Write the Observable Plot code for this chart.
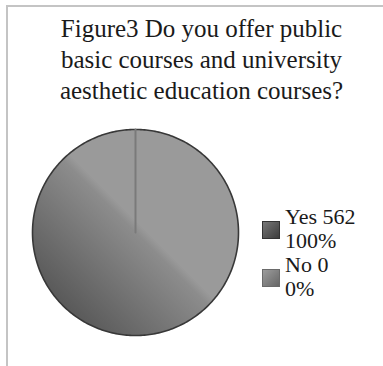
<!DOCTYPE html>
<html>
<head>
<meta charset="utf-8">
<script src="https://cdn.jsdelivr.net/npm/d3@7"></script>
<script src="https://cdn.jsdelivr.net/npm/@observablehq/plot@0.6"></script>
<style>
  html, body { margin: 0; padding: 0; background: #fff; }
  body { width: 383px; height: 366px; position: relative; overflow: hidden; font-family: "Liberation Serif", "DejaVu Serif", serif; color: #1a1a1a; }
  #frame { position: absolute; left: 6px; top: 5px; width: 400px; height: 400px; border-left: 2px solid #c4c4c4; border-top: 2px solid #c4c4c4; }
  #title { position: absolute; left: 0; top: 13px; width: 403px; text-align: center; font-size: 25px; line-height: 31px; }
  #chart { position: absolute; left: 0; top: 115px; }
  .item { position: absolute; left: 285px; font-size: 22px; line-height: 24px; white-space: nowrap; }
  .sw { position: absolute; left: 262px; width: 16px; height: 16px; border: 1.5px solid #333; }
</style>
</head>
<body>
<div id="frame"></div>
<div id="title"></div>
<div id="chart"></div>
<div id="legend"></div>
<script>
const titleLines = ["Figure3 Do you offer public", "basic courses and university", "aesthetic education courses?"];
const categories = ["Yes", "No"];
const counts = [562, 0];
const percents = ["100%", "0%"];

document.getElementById("title").innerHTML = titleLines.join("<br>");

// pie angles from the data
const arcs = d3.pie().sort(null)(counts);
const slices = [];
arcs.forEach((a, i) => {
  const span = a.endAngle - a.startAngle;
  const n = Math.max(1, Math.ceil(span / (Math.PI / 180)));
  const pts = [{cat: categories[i], x: 0, y: 0, part: "edge"}];
  for (let k = 0; k <= n; k++) {
    const t = a.startAngle + span * k / n;
    pts.push({cat: categories[i], x: Math.sin(t), y: Math.cos(t), part: "arc"});
  }
  pts.push({cat: categories[i], x: 0, y: 0, part: "edge"});
  slices.push(pts);
});
const yesSlice = slices[0];
const yesArc = yesSlice.filter(d => d.part === "arc");
const noSlice = slices[1];

const plot = Plot.plot({
  width: 383,
  height: 251,
  margin: 0,
  x: {domain: [-1, 1], range: [32, 238], axis: null},
  y: {domain: [-1, 1], range: [220, 14], axis: null},
  marks: [
    Plot.line(yesSlice, {x: "x", y: "y", fill: "url(#pieGrad)", stroke: "none", curve: "linear"}),
    Plot.line(yesArc, {x: "x", y: "y", stroke: "#383838", strokeWidth: 1.6, curve: "linear"}),
    Plot.line(noSlice, {x: "x", y: "y", stroke: "#7a7a7a", strokeWidth: 2, curve: "linear"})
  ]
});
plot.insertAdjacentHTML("afterbegin",
  `<defs><linearGradient id="pieGrad" x1="0" y1="1" x2="1" y2="0">
     <stop offset="0" stop-color="#444"/>
     <stop offset="0.5" stop-color="#8c8c8c"/>
     <stop offset="0.53" stop-color="#9a9a9a"/>
     <stop offset="1" stop-color="#9a9a9a"/>
   </linearGradient></defs>`);
document.getElementById("chart").appendChild(plot);

// legend
const legend = document.getElementById("legend");
const itemTops = [205, 253];
const swatchFills = ["linear-gradient(135deg, #777 0%, #3c3c3c 100%)", "linear-gradient(135deg, #9c9c9c 0%, #666 100%)"];
const swatchBorders = ["#333", "#6a6a6a"];
categories.forEach((c, i) => {
  const t = document.createElement("div");
  t.className = "item";
  t.style.top = itemTops[i] + "px";
  t.innerHTML = `${c} ${counts[i]}<br>${percents[i]}`;
  legend.appendChild(t);
  const s = document.createElement("div");
  s.className = "sw";
  s.style.top = (itemTops[i] + 16) + "px";
  s.style.background = swatchFills[i];
  s.style.borderColor = swatchBorders[i];
  legend.appendChild(s);
});
</script>
</body>
</html>
